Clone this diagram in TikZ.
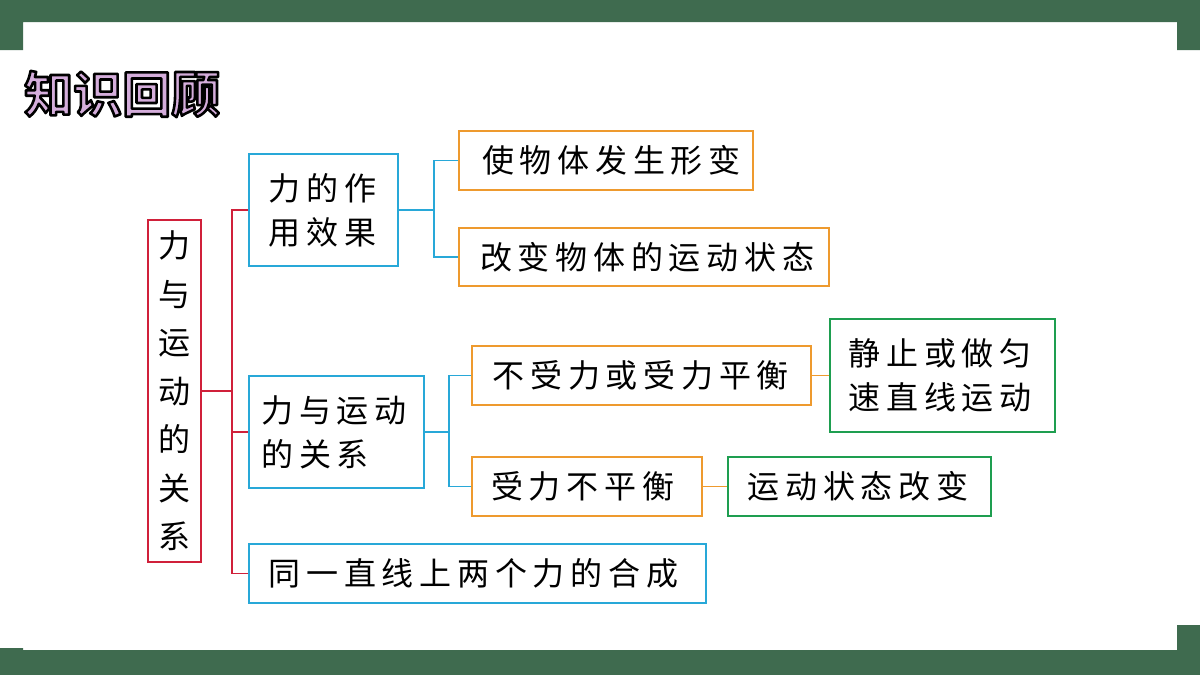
\documentclass[tikz,border=0pt]{standalone}
\usepackage{fontspec}
\setmainfont{Liberation Sans}
\newfontfamily\cjk[LetterSpace=18]{Noto Sans CJK SC}
\newfontfamily\cjkbold{Noto Sans CJK SC Bold}
\usetikzlibrary{positioning}
\definecolor{bandgreen}{HTML}{3F6B4F}
\definecolor{rootred}{HTML}{D0203A}
\definecolor{boxblue}{HTML}{28A8D8}
\definecolor{boxorange}{HTML}{EE9A2E}
\definecolor{boxgreen}{HTML}{1E9E50}
\tikzset{
  box/.style={draw, line width=2pt, inner sep=0pt, font=\cjk\fontsize{32}{44}\selectfont, anchor=north west, align=left},
  bluebox/.style={box, draw=boxblue},
  orangebox/.style={box, draw=boxorange},
  greenbox/.style={box, draw=boxgreen},
  link/.style={line width=1.8pt},
}
\begin{document}
\begin{tikzpicture}[x=1pt,y=-1pt]
		\useasboundingbox (0,0) rectangle (1200,675);
		\fill[bandgreen] (0,0) rectangle (1200,22) (0,0) rectangle (23,50) (1177,0) rectangle (1200,50);
		\fill[bandgreen] (0,650) rectangle (1200,675) (0,648) rectangle (23,675) (1177,625) rectangle (1200,675);
		% title
		\node (title) [font=\cjkbold\fontsize{49}{49}\selectfont, anchor=west, inner sep=0pt] at (24,94)
			{\special{pdf:literal direct 1 j 2.6 w 2 Tr 0.83 0.68 0.86 rg 0 0 0 RG}知识回顾\special{pdf:literal direct 0 Tr 0 g 0 G}};
		%
		\node (root) [draw=rootred, line width=2pt, minimum width=53pt, minimum height=342pt, anchor=north west, inner sep=0pt,
			align=center, font=\cjk\fontsize{32}{48.5}\selectfont] at (147,219) {力\\与\\运\\动\\的\\关\\系};
		\node (eff) [bluebox, minimum width=149pt, minimum height=112pt, text width=142pt] at (248,153) {\hspace{16pt}力的作\\\hspace{16pt}用效果};
		\node (eff1) [orangebox, minimum width=294pt, minimum height=59pt, text width=280pt] at (458,130) {\hspace{16pt}使物体发生形变};
		\node (eff2) [orangebox, minimum width=370pt, minimum height=58pt, text width=360pt] at (458,227) {\hspace{16pt}改变物体的运动状态};
		\node (rel) [bluebox, minimum width=175pt, minimum height=112pt, text width=170pt] at (248,375) {\hspace{10pt}力与运动\\\hspace{10pt}的关系};
		\node (bal) [orangebox, minimum width=339pt, minimum height=59pt, text width=330pt] at (471,345) {\hspace{16pt}不受力或受力平衡};
		\node (still) [greenbox, minimum width=225pt, minimum height=113pt, text width=220pt] at (829,318) {\hspace{16pt}静止或做匀\\\hspace{16pt}速直线运动};
		\node (unbal) [orangebox, minimum width=230pt, minimum height=59pt, text width=224pt] at (471,456) {\hspace{16pt}受力不平衡};
		\node (chg) [greenbox, minimum width=263pt, minimum height=59pt, text width=256pt] at (727,456) {\hspace{16pt}运动状态改变};
		\node (comp) [bluebox, minimum width=457pt, minimum height=59pt, text width=450pt] at (248,543) {\hspace{16pt}同一直线上两个力的合成};
		%
		\draw[rootred, link] (root.east) -- ++(30,0) coordinate (rt);
		\draw[rootred, link] (eff.west) -| (rt) |- (comp.west);
		\draw[rootred, link] (rt) |- (rel.west);
		\draw[boxblue, link] (eff.east) -- ++(35,0) coordinate (et);
		\draw[boxblue, link] (eff1.west) -| (et) |- (eff2.west);
		\draw[boxblue, link] (rel.east) -- ++(24,0) coordinate (bt);
		\draw[boxblue, link] (bal.west) -| (bt) |- (unbal.west);
		\draw[boxorange, link] (bal.east) -- (bal.east -| still.west);
		\draw[boxorange, link] (unbal.east) -- (chg.west);
	\end{tikzpicture}
\end{document}
